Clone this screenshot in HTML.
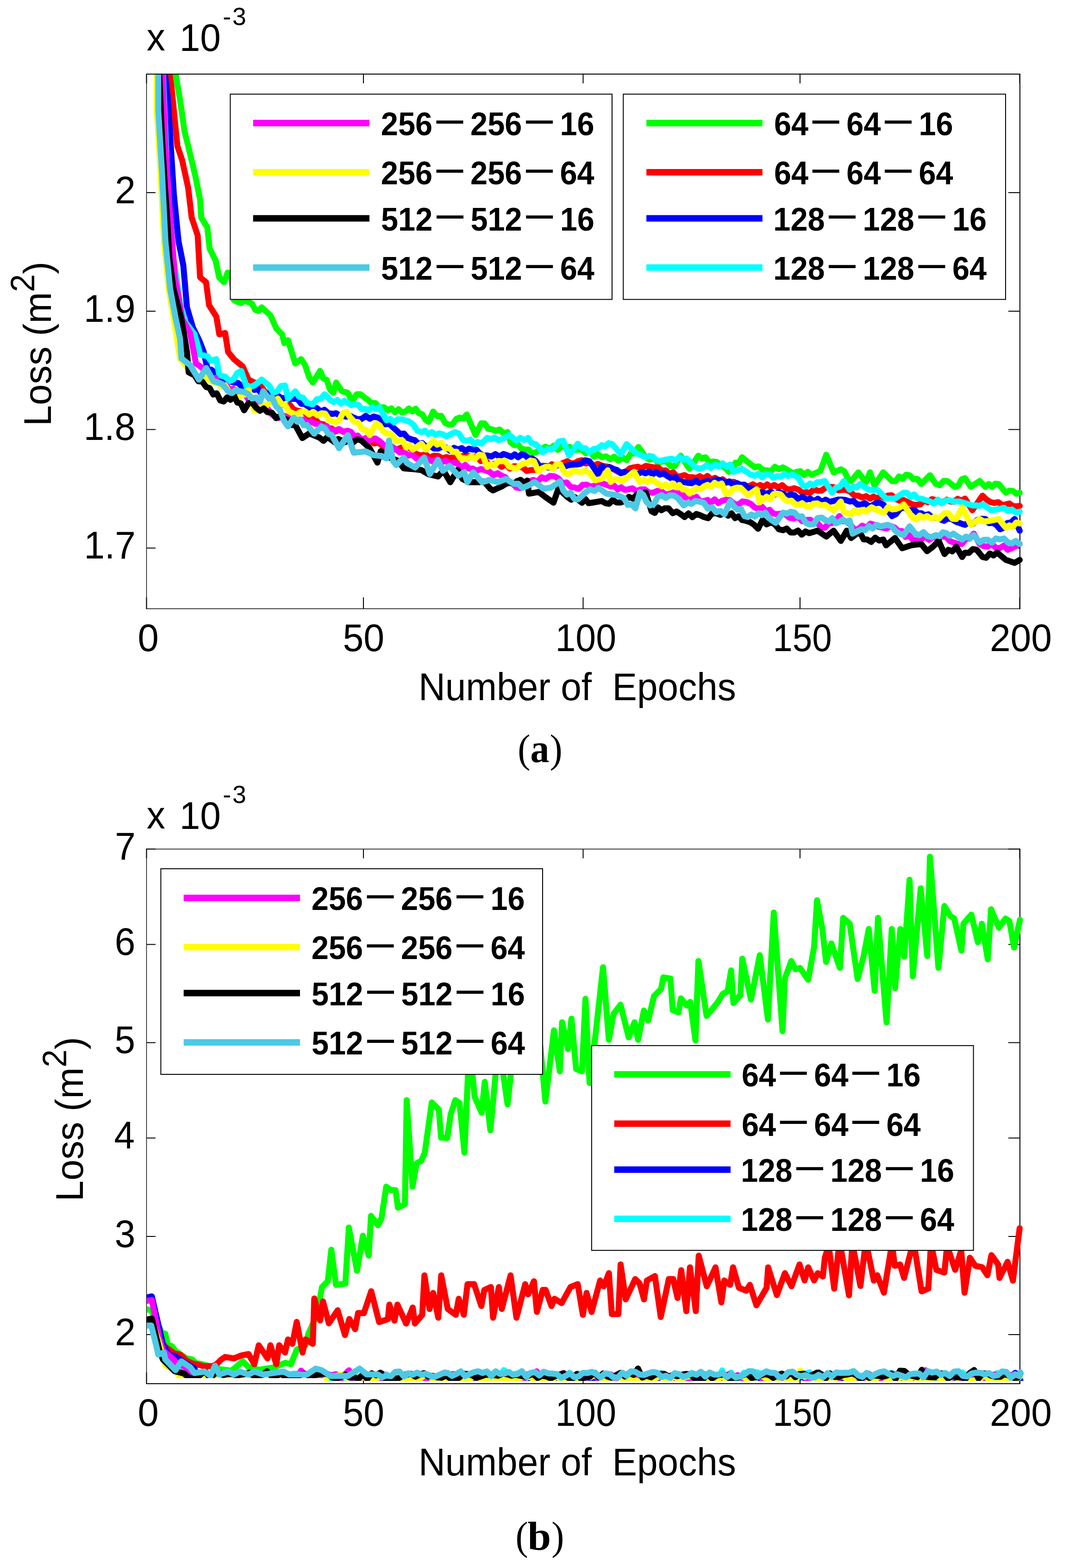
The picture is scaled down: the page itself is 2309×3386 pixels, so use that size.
<!DOCTYPE html>
<html><head><meta charset="utf-8"><title>Loss vs Epochs</title>
<style>html,body{margin:0;padding:0;background:#fff;}svg{display:block;}.t{font-family:"Liberation Sans", Arial, sans-serif;fill:#000;}.lg{font-family:"Liberation Sans", Arial, sans-serif;font-weight:bold;fill:#000;}.cap{font-family:"Liberation Serif", "Times New Roman", serif;fill:#000;}</style></head><body>
<svg width="2309" height="3386" viewBox="0 0 2309 3386">
<rect width="2309" height="3386" fill="#fff"/>
<defs>
<clipPath id="c1"><rect x="317" y="161" width="1895" height="1152.8"/></clipPath>
<clipPath id="c2"><path d="M317 1834.4H2212V2982H700V2976H317Z"/></clipPath>
</defs>
<path d="M316.5 159V1315.5" stroke="#000" stroke-width="1.4" fill="none"/>
<path d="M315.8 160H2203.5" stroke="#000" stroke-width="2" fill="none"/>
<path d="M2203.0 159V1315.5" stroke="#000" stroke-width="2" fill="none"/>
<path d="M315.8 1314.5H2204.0" stroke="#000" stroke-width="1.4" fill="none"/>
<path d="M316.5 416.0h19.5M2202.5 416.0h-24.5M316.5 672.0h19.5M2202.5 672.0h-24.5M316.5 927.5h19.5M2202.5 927.5h-24.5M316.5 1183.6h19.5M2202.5 1183.6h-24.5M316.5 1314.5v-24.5M316.5 160v20M785.0 1314.5v-24.5M785.0 160v20M1259.5 1314.5v-24.5M1259.5 160v20M1728.0 1314.5v-24.5M1728.0 160v20M2202.5 1314.5v-24.5M2202.5 160v20" fill="none" stroke="#000" stroke-width="2"/>
<path d="M316.5 1832.6V2989.0" stroke="#000" stroke-width="1.4" fill="none"/>
<path d="M315.8 1833.6H2203.5" stroke="#000" stroke-width="1.5" fill="none"/>
<path d="M2203.0 1832.6V2989.0" stroke="#000" stroke-width="2" fill="none"/>
<path d="M315.8 2988.0H2204.0" stroke="#000" stroke-width="2" fill="none"/>
<path d="M316.5 1833.5h19.5M2202.5 1833.5h-24.5M316.5 2039.5h19.5M2202.5 2039.5h-24.5M316.5 2251.6h19.5M2202.5 2251.6h-24.5M316.5 2457.5h19.5M2202.5 2457.5h-24.5M316.5 2670.0h19.5M2202.5 2670.0h-24.5M316.5 2882.0h19.5M2202.5 2882.0h-24.5M316.5 2988.0v-24.5M316.5 1833.6v20M785.0 2988.0v-24.5M785.0 1833.6v20M1259.5 2988.0v-24.5M1259.5 1833.6v20M1728.0 2988.0v-24.5M1728.0 1833.6v20M2202.5 2988.0v-24.5M2202.5 1833.6v20" fill="none" stroke="#000" stroke-width="2"/>
<g clip-path="url(#c1)" fill="none" stroke-width="13" stroke-linejoin="round" stroke-linecap="round">
<polyline stroke="#00ff00" points="366.0,0.0 372.6,80.0 379.3,160.0 388.3,211.6 393.5,247.8 398.6,284.0 406.4,315.0 414.1,347.2 421.9,379.5 427.0,405.2 432.2,431.0 434.8,470.0 441.2,480.2 447.7,490.5 452.9,537.0 459.4,549.9 465.8,562.8 473.5,599.0 478.7,604.1 483.9,609.3 491.6,588.7 500.0,600.0 505.3,647.9 513.2,652.0 521.0,654.4 528.9,649.0 536.8,652.6 544.2,655.6 551.5,669.1 558.9,671.5 565.2,663.7 571.5,669.5 577.8,675.2 584.1,681.0 590.5,695.2 596.8,709.4 603.1,715.7 609.4,722.0 614.1,741.0 622.0,734.6 629.9,759.8 637.8,785.0 644.1,780.3 650.4,775.6 658.8,787.9 667.2,813.1 675.6,826.0 683.5,813.5 691.4,800.9 698.5,817.3 705.6,820.3 712.7,841.0 719.8,848.2 726.1,826.0 732.4,835.5 738.7,845.0 745.0,846.6 751.3,848.2 756.0,857.6 760.8,867.0 765.5,859.2 770.3,851.4 778.2,851.3 786.0,857.5 793.9,862.8 801.8,870.3 810.8,870.5 819.8,880.1 828.9,879.5 837.9,885.6 845.5,881.9 853.0,890.2 860.6,883.6 868.1,890.3 875.7,888.8 883.1,882.1 890.4,888.4 897.8,882.5 904.9,892.4 912.0,894.6 919.1,906.5 926.2,910.9 935.6,888.8 944.3,898.8 953.0,898.1 961.6,913.6 970.3,917.2 977.9,915.7 985.5,904.6 993.0,901.7 1000.6,903.9 1008.2,895.1 1014.5,909.8 1020.8,924.6 1027.1,939.3 1033.4,926.6 1039.7,914.0 1047.1,914.5 1054.4,926.0 1061.8,926.7 1070.5,930.4 1079.2,927.5 1087.8,936.1 1096.5,933.0 1102.8,955.0 1110.7,961.3 1118.6,959.5 1126.5,969.3 1134.4,970.8 1141.8,970.8 1149.1,978.6 1156.5,977.1 1163.8,972.9 1171.2,968.7 1178.5,964.5 1187.3,969.9 1196.2,962.2 1205.0,971.4 1213.9,962.7 1222.7,967.7 1231.1,965.0 1239.6,972.2 1248.0,970.8 1256.7,971.2 1265.3,978.8 1274.0,974.6 1282.7,986.2 1291.3,980.8 1300.0,987.3 1308.9,985.5 1317.9,991.5 1326.8,986.2 1335.7,994.7 1344.7,988.0 1353.6,993.6 1362.0,979.6 1370.5,979.0 1378.9,965.2 1386.8,976.2 1394.6,987.3 1403.6,992.5 1412.6,989.2 1421.6,999.9 1430.7,996.1 1439.7,996.6 1448.7,1006.8 1457.7,1006.2 1464.0,995.2 1470.3,984.1 1476.6,993.6 1483.0,1003.0 1489.3,1012.5 1495.6,1003.0 1501.9,993.6 1508.2,984.1 1516.1,989.9 1524.0,987.5 1531.8,998.0 1539.7,996.7 1548.4,997.8 1557.1,1004.6 1565.7,1010.1 1574.4,1018.8 1581.5,1015.1 1588.6,999.1 1595.7,999.9 1602.8,987.3 1609.1,992.5 1615.5,997.8 1621.8,1003.0 1630.5,1009.1 1639.2,1007.2 1647.8,1014.7 1656.5,1015.6 1665.2,1017.4 1673.8,1008.0 1682.5,1012.9 1691.2,1009.3 1698.5,1013.5 1705.9,1017.8 1713.2,1022.0 1721.1,1018.9 1729.0,1017.5 1736.9,1025.7 1744.8,1018.9 1752.7,1025.5 1760.6,1022.0 1766.3,1019.4 1772.1,1016.7 1778.4,999.4 1784.7,982.0 1792.6,1001.0 1800.5,1019.9 1808.3,1016.8 1816.2,1013.6 1823.6,1017.5 1830.9,1032.6 1838.3,1038.8 1846.2,1029.3 1854.1,1019.9 1862.0,1031.0 1869.9,1042.0 1879.3,1019.9 1884.0,1034.1 1888.8,1048.3 1895.1,1038.8 1901.4,1029.4 1907.7,1019.9 1914.0,1026.2 1920.4,1032.5 1926.7,1038.8 1934.3,1039.1 1941.8,1028.9 1949.4,1034.0 1956.9,1025.3 1964.5,1026.2 1972.9,1035.1 1981.3,1033.9 1989.7,1045.1 1996.0,1038.8 2002.4,1032.5 2008.7,1026.2 2015.0,1035.7 2021.3,1045.1 2029.7,1047.8 2038.1,1038.6 2046.5,1038.8 2054.4,1045.1 2062.3,1051.4 2069.7,1049.0 2077.0,1035.2 2084.4,1032.5 2090.7,1042.0 2097.0,1051.4 2103.3,1047.2 2109.6,1043.0 2115.9,1038.8 2122.2,1045.1 2128.5,1051.4 2135.6,1045.1 2142.7,1051.5 2149.8,1044.4 2156.9,1045.1 2164.8,1054.5 2172.7,1064.0 2180.1,1059.4 2187.6,1060.2 2195.1,1066.2 2202.5,1064.0"/>
<polyline stroke="#ff0000" points="358.0,0.0 366.4,160.0 370.2,185.8 376.6,250.4 383.1,315.0 388.3,330.5 393.5,346.0 399.9,375.6 406.4,405.3 414.1,470.0 420.6,489.3 427.0,508.6 432.2,599.0 438.6,604.1 445.1,609.3 451.6,659.0 459.5,671.5 467.4,684.0 473.7,722.0 480.0,720.5 486.3,719.0 492.7,760.0 499.0,767.8 505.3,775.6 511.6,780.9 517.9,786.1 524.2,791.4 530.5,805.6 536.8,819.8 543.1,822.9 549.4,826.0 557.0,828.6 564.7,835.6 572.4,845.9 580.0,850.0 587.8,852.2 595.5,863.2 603.3,862.0 611.0,873.8 618.8,876.0 626.6,875.0 634.4,884.2 642.2,886.8 650.0,888.0 657.5,889.9 665.0,898.8 672.5,904.5 680.0,905.0 689.3,914.7 698.7,916.3 708.0,925.0 716.0,925.0 724.0,931.9 732.0,927.0 740.0,932.0 748.4,932.1 756.7,940.9 765.0,943.3 773.4,942.8 782.3,949.7 791.1,945.5 800.0,951.9 808.1,957.7 816.2,954.6 824.3,961.6 832.5,965.4 840.6,962.0 848.7,970.6 856.8,970.8 864.7,967.6 872.6,964.5 880.2,964.9 887.7,968.9 895.3,977.9 902.8,982.0 910.4,983.4 919.4,981.3 928.4,988.2 937.4,984.0 946.5,984.7 955.5,989.7 964.5,987.0 973.5,989.7 981.4,985.2 989.3,990.9 997.1,985.0 1005.0,984.8 1012.9,984.5 1020.8,986.6 1029.6,985.9 1038.5,995.7 1047.3,992.9 1056.2,1002.2 1065.0,1002.4 1074.1,1000.2 1083.2,1008.1 1092.3,1002.8 1101.4,1011.8 1110.6,1006.8 1119.7,1007.8 1128.8,1009.3 1137.9,1016.9 1147.0,1015.0 1156.0,1015.1 1165.0,1007.6 1174.0,1005.7 1183.0,1009.5 1192.0,1002.6 1201.0,1005.9 1210.0,1002.4 1217.6,999.4 1225.2,995.9 1232.8,1000.3 1240.4,1000.7 1248.0,996.0 1256.7,993.8 1265.3,1000.9 1274.0,998.4 1282.7,1006.2 1291.3,1001.7 1300.0,1005.5 1306.3,1006.8 1312.6,1008.0 1318.9,1009.3 1326.8,1014.0 1334.7,1018.8 1343.3,1020.3 1351.8,1018.8 1360.4,1011.4 1368.9,1009.3 1377.5,1007.8 1386.0,1011.2 1394.6,1006.2 1400.9,1007.2 1407.3,1008.3 1413.6,1009.3 1421.7,1009.6 1429.8,1016.4 1437.9,1015.7 1446.0,1023.4 1454.1,1019.8 1462.2,1029.4 1470.3,1028.3 1478.5,1025.9 1486.7,1030.4 1495.0,1030.5 1503.2,1032.1 1511.4,1028.3 1519.7,1033.0 1528.0,1027.7 1536.2,1035.2 1544.5,1031.8 1552.8,1038.7 1561.0,1035.0 1569.3,1041.9 1577.6,1040.9 1585.7,1040.6 1593.8,1047.5 1601.9,1048.8 1610.1,1048.9 1618.2,1049.9 1626.3,1045.9 1634.4,1050.3 1642.0,1047.3 1649.5,1051.3 1657.1,1046.0 1664.6,1051.4 1672.2,1047.2 1680.9,1052.6 1689.5,1047.7 1698.2,1055.5 1706.9,1057.1 1715.6,1054.3 1724.2,1057.2 1732.9,1063.9 1741.6,1063.0 1749.8,1064.5 1758.0,1056.4 1766.2,1059.7 1774.4,1059.4 1782.6,1053.5 1791.8,1051.3 1801.0,1052.0 1810.2,1058.8 1819.4,1057.7 1828.1,1057.9 1836.8,1062.3 1845.4,1070.3 1854.1,1070.3 1862.5,1074.3 1870.9,1071.4 1879.3,1076.7 1886.9,1072.2 1894.5,1077.0 1902.0,1071.1 1909.6,1075.1 1917.2,1070.3 1925.9,1069.4 1934.6,1077.3 1943.2,1081.3 1951.9,1079.8 1958.2,1083.0 1964.5,1086.1 1970.8,1089.3 1979.2,1090.4 1987.6,1089.3 1996.0,1081.2 2004.5,1084.6 2012.9,1077.7 2021.3,1079.8 2029.2,1083.7 2037.1,1083.7 2044.9,1079.1 2052.8,1083.0 2060.7,1083.4 2068.6,1077.2 2076.5,1081.4 2084.4,1076.7 2092.3,1089.3 2100.2,1101.9 2107.5,1091.4 2114.9,1080.8 2122.2,1070.3 2130.6,1078.5 2139.1,1084.1 2147.5,1086.1 2155.9,1084.4 2164.3,1090.4 2172.7,1089.3 2180.1,1087.2 2187.6,1092.7 2195.1,1093.5 2202.5,1092.4"/>
<polyline stroke="#0000ff" points="350.0,0.0 356.0,160.0 362.5,211.6 368.9,314.9 375.4,418.2 380.5,469.9 385.7,521.5 390.9,547.4 396.0,573.2 403.8,663.6 410.2,685.5 416.7,707.5 423.1,720.4 429.6,733.3 434.8,746.6 440.0,760.0 448.5,797.7 456.4,798.2 464.2,804.7 472.1,813.6 480.0,815.0 488.4,820.7 496.9,824.0 505.3,826.0 514.1,826.9 522.9,835.1 531.8,837.9 540.6,835.5 549.4,842.0 557.0,840.1 564.7,849.9 572.4,851.6 580.0,850.0 587.4,850.1 594.7,853.4 602.0,855.5 609.4,860.8 617.8,858.3 626.2,862.5 634.6,860.8 642.8,862.1 651.0,872.0 659.2,872.4 667.4,881.2 675.6,883.0 684.0,881.0 692.4,888.4 700.8,884.9 709.2,892.0 717.6,893.9 726.0,892.4 733.6,897.0 741.2,898.3 748.8,899.8 756.4,898.2 764.0,901.8 772.7,905.5 781.3,904.5 790.0,898.0 798.7,904.2 807.3,899.5 816.0,901.8 824.2,911.3 832.3,916.3 840.5,914.8 848.6,922.6 856.8,929.8 864.7,937.6 872.5,936.2 880.4,945.7 888.3,948.7 896.2,950.6 904.1,959.1 912.0,956.8 919.9,964.5 928.6,962.1 937.2,968.5 945.9,968.8 954.6,965.1 963.3,966.2 971.9,973.1 980.6,967.0 989.3,970.8 997.2,967.6 1005.0,973.3 1012.9,968.8 1020.8,970.8 1028.7,970.9 1036.6,979.5 1044.5,983.9 1052.4,983.4 1061.2,985.8 1070.0,980.6 1078.9,986.0 1087.7,980.3 1096.5,983.4 1104.1,986.8 1111.7,981.1 1119.2,987.4 1126.8,981.0 1134.4,983.4 1142.0,990.1 1149.5,990.1 1157.1,995.3 1164.6,1005.8 1172.2,1008.7 1179.8,1006.2 1187.3,1009.8 1194.9,1010.7 1202.4,1003.3 1210.0,1005.5 1219.0,1008.0 1228.1,1004.5 1237.1,1003.3 1246.1,1003.1 1255.1,1001.3 1264.2,993.9 1273.2,996.0 1279.5,1005.5 1285.8,1014.9 1292.1,1024.4 1300.0,1006.2 1308.2,1012.0 1316.4,1008.6 1324.6,1012.5 1332.8,1014.9 1341.0,1022.0 1349.9,1018.6 1358.9,1023.8 1367.8,1019.2 1376.7,1024.2 1385.7,1019.0 1394.6,1022.0 1402.2,1018.3 1409.8,1024.2 1417.3,1019.2 1424.9,1024.9 1432.5,1022.0 1441.3,1027.9 1450.2,1033.0 1459.0,1030.2 1467.9,1040.0 1476.7,1040.9 1485.5,1042.7 1494.3,1043.3 1503.2,1038.2 1512.0,1044.3 1520.8,1040.9 1528.4,1038.4 1536.0,1042.5 1543.5,1036.2 1551.1,1035.8 1558.7,1037.7 1566.9,1042.8 1575.1,1039.6 1583.3,1046.1 1591.5,1043.2 1599.7,1047.2 1607.6,1046.5 1615.5,1054.8 1623.3,1053.4 1631.2,1059.7 1639.1,1062.5 1647.0,1063.0 1655.8,1066.8 1664.7,1062.1 1673.5,1068.1 1682.4,1062.4 1691.2,1066.1 1699.6,1071.9 1708.0,1067.8 1716.4,1069.7 1724.8,1077.8 1733.2,1072.9 1741.6,1078.7 1749.9,1076.7 1758.3,1082.4 1766.6,1076.9 1775.0,1084.1 1783.3,1079.0 1791.7,1083.6 1800.0,1081.9 1808.8,1079.1 1817.6,1078.7 1826.4,1079.7 1835.2,1083.0 1843.6,1081.9 1852.0,1089.8 1860.4,1089.3 1868.3,1086.5 1876.2,1093.3 1884.1,1091.3 1891.9,1086.6 1899.8,1085.5 1907.7,1089.3 1914.0,1097.7 1920.4,1106.1 1926.7,1114.5 1935.1,1110.2 1943.5,1099.4 1951.9,1095.6 1959.5,1100.1 1967.0,1102.3 1974.6,1100.6 1982.1,1107.9 1989.7,1108.2 1997.6,1112.8 2005.5,1110.5 2013.4,1117.5 2021.3,1117.7 2030.1,1121.4 2039.0,1124.6 2047.8,1119.5 2056.7,1121.5 2065.5,1127.1 2071.8,1129.2 2078.1,1131.3 2084.4,1133.4 2093.2,1127.5 2102.0,1130.9 2110.9,1122.7 2119.7,1120.2 2128.5,1120.8 2136.4,1129.7 2144.3,1129.1 2152.2,1133.5 2160.1,1142.9 2168.0,1139.8 2175.8,1129.5 2183.7,1128.3 2191.6,1120.8 2197.1,1133.4 2202.5,1146.0"/>
<polyline stroke="#00ffff" points="345.0,0.0 352.0,160.0 357.0,280.0 362.0,400.0 368.5,480.0 375.0,560.0 382.5,610.0 390.0,660.0 395.6,678.4 401.2,696.8 407.5,705.2 413.8,713.6 420.1,722.0 426.4,744.0 432.7,766.0 440.6,767.6 448.5,769.3 454.8,778.8 461.1,777.2 467.4,775.6 473.7,810.3 480.0,811.9 486.3,813.5 491.1,818.2 495.8,823.0 504.2,819.3 512.6,805.5 521.0,800.9 527.4,819.8 533.7,838.7 541.5,835.5 549.4,832.4 557.3,826.1 565.2,819.8 573.1,826.1 581.0,832.4 590.4,848.2 598.8,844.9 607.3,833.5 615.7,832.4 622.0,860.8 629.9,852.9 637.8,845.0 646.2,857.0 654.6,858.8 663.0,870.3 669.3,871.8 675.6,873.4 684.0,862.3 692.5,861.3 700.9,851.4 707.2,857.7 713.5,864.0 721.1,868.3 728.6,863.7 736.2,871.7 743.7,865.4 751.3,870.3 758.9,874.9 766.5,873.2 774.0,874.3 781.6,883.8 789.2,883.0 796.6,886.1 804.0,879.0 811.5,883.3 818.9,879.3 826.8,893.5 834.7,907.7 842.9,904.6 851.1,912.0 859.3,905.3 867.5,905.5 875.7,907.7 884.4,910.7 893.0,917.3 901.7,930.5 910.4,933.0 917.8,930.0 925.1,937.4 932.5,933.0 940.4,939.0 948.2,935.7 956.1,937.7 964.0,942.4 970.3,939.3 976.7,936.1 983.0,933.0 991.4,936.0 999.8,950.0 1008.2,951.9 1016.1,949.4 1024.0,958.7 1031.8,954.3 1039.7,958.2 1046.1,951.9 1052.4,945.6 1060.3,948.5 1068.2,944.6 1076.0,950.4 1083.9,948.7 1091.8,944.0 1099.7,939.3 1107.6,945.6 1115.5,951.9 1123.9,945.5 1132.3,950.5 1140.7,945.6 1148.6,957.5 1156.5,959.1 1164.3,965.9 1172.2,977.1 1181.0,970.0 1189.9,970.7 1198.7,965.8 1207.6,953.1 1216.4,951.9 1222.7,967.6 1229.0,983.4 1235.3,975.0 1241.7,966.6 1248.0,958.2 1256.4,967.4 1264.8,968.3 1273.2,977.1 1282.1,969.7 1291.1,968.6 1300.0,961.4 1307.4,963.7 1314.7,956.9 1322.1,958.9 1328.4,966.3 1334.7,973.6 1341.0,981.0 1347.3,970.0 1353.6,958.9 1359.9,965.2 1366.3,971.5 1372.6,977.8 1379.9,981.0 1387.3,984.1 1394.6,987.3 1402.2,984.6 1409.8,985.8 1417.3,993.1 1424.9,995.7 1432.5,993.6 1438.8,992.5 1445.1,991.5 1451.4,990.4 1459.3,994.9 1467.2,986.7 1475.1,992.7 1483.0,990.4 1489.3,996.7 1495.6,1003.0 1501.9,1009.3 1510.3,1012.1 1518.7,1010.2 1527.1,1004.3 1535.5,1010.9 1544.0,1002.8 1552.4,1007.5 1560.8,1000.5 1569.2,1007.8 1577.6,1003.0 1583.9,1018.8 1590.2,1016.7 1596.5,1014.6 1602.8,1012.5 1609.1,1016.7 1615.5,1020.9 1621.8,1025.1 1629.9,1027.5 1638.0,1023.2 1646.1,1030.9 1654.2,1023.2 1662.3,1023.8 1670.4,1031.8 1678.5,1028.3 1686.4,1029.5 1694.3,1023.2 1702.2,1028.1 1710.1,1025.1 1718.0,1027.0 1725.8,1033.9 1733.7,1047.9 1741.6,1050.3 1749.5,1044.1 1757.4,1048.1 1765.3,1041.2 1773.2,1040.9 1781.5,1038.8 1789.4,1051.4 1797.3,1064.0 1805.7,1053.3 1814.2,1050.9 1822.6,1038.8 1828.9,1048.2 1835.2,1057.7 1842.6,1050.9 1849.9,1052.8 1857.3,1045.1 1863.6,1049.3 1869.9,1053.5 1876.2,1057.7 1882.5,1057.7 1888.8,1057.7 1895.1,1057.7 1901.4,1064.0 1907.7,1070.4 1914.0,1076.7 1920.3,1076.7 1926.7,1076.7 1933.0,1076.7 1939.3,1072.5 1945.6,1068.2 1951.9,1064.0 1959.5,1064.5 1967.0,1073.3 1974.6,1067.7 1982.1,1076.1 1989.7,1076.7 1996.0,1078.8 2002.4,1080.9 2008.7,1083.0 2017.1,1087.4 2025.5,1078.8 2033.9,1087.0 2042.3,1080.5 2050.7,1080.3 2059.1,1083.0 2065.4,1083.0 2071.8,1083.0 2079.1,1085.1 2086.5,1087.2 2093.8,1089.3 2100.9,1091.7 2108.0,1091.2 2115.1,1092.6 2122.2,1089.3 2128.5,1093.5 2134.8,1097.7 2141.1,1101.9 2147.4,1100.8 2153.8,1099.8 2160.1,1098.7 2168.6,1096.5 2177.1,1103.7 2185.5,1100.1 2194.0,1106.7 2202.5,1105.0"/>
<polyline stroke="#ff00ff" points="346.0,0.0 350.9,160.0 357.3,315.0 362.5,392.5 367.6,470.0 372.8,534.5 378.0,599.0 385.8,644.2 393.5,689.4 402.1,704.1 410.6,718.9 417.0,752.0 423.3,785.0 432.2,790.9 441.1,798.9 450.0,810.0 457.5,818.6 465.0,815.7 472.5,828.8 480.0,830.0 488.0,831.9 496.0,841.1 504.0,839.5 512.0,849.6 520.0,850.0 528.0,849.8 536.0,861.8 544.0,858.2 552.0,868.9 560.0,870.0 568.4,879.5 576.8,880.6 585.2,893.5 593.6,898.7 602.9,902.5 612.2,897.4 621.4,900.2 630.7,905.9 640.0,905.0 648.0,909.5 656.0,905.8 664.0,914.8 672.0,909.5 680.0,915.0 688.6,915.9 697.2,924.0 705.8,920.2 714.4,929.6 723.0,930.0 732.3,926.6 741.7,932.4 751.0,930.0 758.2,933.0 765.5,942.4 772.8,940.6 780.0,950.0 787.8,947.2 795.6,954.0 803.3,947.9 811.1,947.0 818.9,951.9 827.7,959.9 836.6,965.5 845.4,963.5 854.3,969.6 863.1,977.1 872.1,975.3 881.1,983.9 890.1,981.4 899.2,990.0 908.2,992.8 917.2,987.6 926.2,993.0 935.2,996.9 944.2,991.4 953.2,999.0 962.3,994.2 971.3,1002.1 980.3,998.1 989.3,1002.4 997.2,1008.9 1005.0,1004.0 1012.9,1012.0 1020.8,1011.8 1029.8,1016.3 1038.8,1012.8 1047.8,1015.6 1056.9,1018.5 1065.9,1026.0 1074.9,1021.9 1083.9,1027.6 1091.8,1030.8 1099.7,1042.8 1107.6,1044.1 1115.5,1052.8 1124.6,1054.0 1133.6,1049.5 1142.7,1039.8 1151.8,1036.2 1160.8,1040.2 1169.9,1030.5 1178.9,1034.1 1188.0,1027.6 1196.9,1028.4 1205.9,1032.8 1214.8,1043.5 1223.7,1041.8 1232.7,1051.4 1241.6,1052.8 1249.9,1055.8 1258.3,1047.0 1266.6,1046.4 1275.0,1050.4 1283.3,1049.4 1291.7,1041.8 1300.0,1043.4 1306.3,1045.7 1312.6,1048.0 1318.9,1050.3 1326.5,1048.7 1334.1,1056.8 1341.6,1052.2 1349.2,1057.8 1356.8,1056.7 1365.7,1054.6 1374.7,1060.3 1383.6,1057.0 1392.5,1056.8 1401.5,1063.6 1410.4,1064.1 1419.3,1060.1 1428.3,1060.9 1437.2,1067.4 1446.1,1066.6 1455.1,1063.2 1464.0,1066.1 1472.1,1064.3 1480.2,1074.5 1488.3,1069.8 1496.5,1077.6 1504.6,1073.0 1512.7,1083.1 1520.8,1081.9 1528.4,1079.6 1536.0,1085.1 1543.5,1078.3 1551.1,1086.3 1558.7,1081.9 1567.7,1079.1 1576.7,1080.1 1585.7,1088.2 1594.8,1089.6 1603.8,1082.8 1612.8,1084.2 1621.8,1088.2 1629.9,1095.8 1638.0,1098.9 1646.1,1094.2 1654.2,1103.9 1662.3,1100.9 1670.4,1109.1 1678.5,1110.3 1687.5,1109.3 1696.5,1110.7 1705.5,1118.2 1714.6,1119.7 1723.6,1116.2 1732.6,1125.5 1741.6,1122.9 1749.6,1122.2 1757.6,1127.7 1765.5,1129.2 1773.5,1138.4 1781.5,1139.7 1789.4,1130.7 1797.3,1129.4 1805.2,1124.2 1813.1,1114.5 1821.0,1125.8 1828.8,1125.8 1836.7,1132.9 1844.6,1142.9 1853.4,1143.1 1862.3,1135.2 1871.1,1139.5 1880.0,1130.8 1888.8,1133.4 1897.6,1137.7 1906.5,1139.5 1915.3,1141.3 1924.2,1135.8 1933.0,1139.7 1940.6,1147.2 1948.1,1146.7 1955.7,1159.4 1963.2,1155.5 1970.8,1165.0 1979.8,1167.4 1988.8,1166.0 1997.8,1157.9 2006.9,1165.7 2015.9,1158.2 2024.9,1164.0 2033.9,1158.7 2042.7,1158.7 2051.6,1168.5 2060.4,1171.7 2069.3,1174.6 2078.1,1174.4 2086.5,1163.4 2094.9,1162.9 2103.3,1152.4 2109.6,1163.4 2115.9,1174.4 2124.6,1179.4 2133.2,1180.4 2141.9,1174.2 2150.6,1182.7 2159.3,1183.7 2168.0,1178.3 2176.6,1187.2 2185.3,1183.9 2193.9,1179.2 2202.5,1174.4"/>
<polyline stroke="#ffff00" points="334.0,0.0 338.8,160.0 338.8,237.5 346.6,366.6 354.3,521.5 359.5,573.1 364.6,624.8 371.1,663.5 377.6,702.3 383.3,738.6 389.0,775.0 396.0,783.3 403.0,791.7 410.0,800.0 417.5,806.0 425.0,812.0 433.8,818.0 442.5,813.9 451.2,819.1 460.0,825.0 468.8,825.3 477.5,834.9 486.3,832.4 494.7,846.4 503.2,848.6 511.6,864.0 520.0,854.2 528.4,852.2 536.8,842.0 543.1,864.0 549.4,886.0 557.8,885.7 566.3,874.3 574.7,876.6 583.1,867.0 591.6,867.2 600.0,860.8 607.9,872.2 615.8,874.5 623.6,887.8 631.5,892.4 640.5,895.0 649.5,889.3 658.5,888.0 667.5,895.2 676.5,889.3 685.5,896.6 694.5,892.4 702.4,893.1 710.2,905.7 718.1,909.9 726.0,911.3 733.4,906.3 740.8,891.8 748.2,889.2 756.6,901.3 765.0,910.7 773.4,911.5 781.8,926.6 790.2,928.3 798.6,939.7 805.6,926.9 812.6,914.0 820.0,918.7 827.3,930.9 834.7,936.0 841.8,936.3 848.9,941.3 856.0,952.7 863.1,951.9 870.2,951.9 877.3,966.3 884.4,961.3 891.5,970.8 897.8,966.6 904.1,962.4 910.4,958.2 915.1,964.5 919.9,970.8 927.8,961.3 935.6,951.9 944.3,960.2 953.0,956.2 961.6,968.0 970.3,967.7 978.2,975.8 986.1,975.5 994.0,989.2 1001.9,989.7 1010.1,990.7 1018.3,984.8 1026.5,990.5 1034.7,982.0 1042.9,983.4 1047.7,996.0 1052.4,1008.7 1060.3,1002.4 1068.2,1005.4 1076.0,995.4 1083.9,996.0 1091.8,995.7 1099.7,1007.8 1107.6,1010.0 1115.5,1011.8 1123.1,1005.2 1130.6,1001.0 1138.2,1000.0 1145.7,994.6 1153.3,996.0 1158.0,1007.0 1162.8,1018.1 1170.7,1011.7 1178.5,1008.0 1186.4,1008.0 1194.3,1012.3 1202.1,1002.5 1210.0,1002.4 1214.8,1011.8 1219.6,1021.3 1228.5,1023.6 1237.5,1016.4 1246.4,1018.0 1255.3,1019.2 1264.3,1016.4 1273.2,1021.3 1279.5,1029.2 1285.8,1037.1 1292.9,1035.5 1300.0,1033.9 1306.3,1024.8 1312.6,1015.6 1318.9,1040.9 1326.8,1034.9 1334.7,1035.0 1342.6,1038.7 1350.5,1034.6 1356.8,1029.3 1363.1,1024.1 1369.4,1018.8 1375.7,1029.8 1382.0,1040.9 1390.4,1035.7 1398.9,1040.5 1407.3,1034.6 1414.6,1039.8 1422.0,1045.1 1429.3,1050.3 1436.9,1046.1 1444.5,1053.3 1452.0,1043.8 1459.6,1052.3 1467.2,1047.2 1474.6,1057.0 1481.9,1057.2 1489.3,1066.1 1497.2,1058.8 1505.0,1054.5 1512.9,1056.9 1520.8,1050.3 1528.4,1047.0 1536.0,1051.0 1543.5,1042.5 1551.1,1047.9 1558.7,1044.0 1568.1,1066.1 1576.0,1065.0 1583.9,1055.2 1591.8,1053.1 1599.7,1053.5 1607.6,1061.4 1615.5,1069.3 1621.8,1065.1 1628.1,1060.9 1634.4,1056.7 1640.7,1085.0 1648.3,1078.5 1655.8,1072.6 1663.4,1078.5 1670.9,1066.9 1678.5,1066.1 1686.1,1067.7 1693.7,1077.1 1701.2,1082.3 1708.8,1081.3 1716.4,1088.2 1724.5,1090.8 1732.6,1086.6 1740.7,1092.8 1748.9,1094.8 1757.0,1087.7 1765.1,1086.9 1773.2,1091.4 1782.3,1090.1 1791.4,1096.2 1800.5,1101.9 1808.3,1092.5 1816.2,1083.0 1822.6,1105.0 1830.5,1108.4 1838.4,1109.5 1846.2,1102.0 1854.1,1107.2 1862.0,1101.2 1869.9,1105.0 1876.2,1100.3 1882.5,1095.6 1888.8,1098.7 1895.1,1101.9 1901.4,1105.0 1909.8,1106.4 1918.2,1094.9 1926.7,1099.9 1935.1,1099.2 1943.5,1096.0 1951.9,1089.3 1958.2,1098.8 1964.5,1108.2 1970.8,1117.7 1978.7,1121.5 1986.6,1113.4 1994.5,1118.1 2002.4,1114.5 2010.8,1119.8 2019.2,1116.0 2027.6,1120.8 2033.9,1114.5 2040.2,1108.2 2048.6,1108.2 2057.1,1120.3 2065.5,1120.8 2071.8,1108.2 2078.1,1095.6 2084.4,1108.2 2090.7,1120.8 2097.0,1133.4 2103.3,1129.2 2109.6,1125.0 2115.9,1120.8 2124.3,1126.0 2132.7,1125.6 2141.1,1124.0 2149.0,1122.4 2156.9,1120.8 2164.8,1130.2 2172.7,1139.7 2180.1,1134.6 2187.6,1137.7 2195.1,1128.2 2202.5,1130.3"/>
<polyline stroke="#000000" points="339.0,0.0 344.0,160.0 350.0,300.0 356.0,400.0 361.0,470.0 366.0,560.0 375.0,624.8 383.5,657.1 392.0,689.4 397.9,724.7 403.8,760.0 407.5,804.0 413.8,807.1 420.1,810.3 428.5,823.3 436.9,824.1 445.3,835.6 452.9,838.1 460.5,851.8 468.0,849.2 475.6,864.5 483.2,867.0 490.6,858.2 497.9,863.4 505.3,854.5 512.7,869.4 520.0,871.0 527.4,886.0 536.8,870.3 545.0,869.8 553.2,880.4 561.4,887.0 569.6,882.0 577.8,890.0 587.1,890.9 596.4,902.9 605.7,897.9 615.0,905.0 622.6,906.4 630.2,917.8 637.8,918.0 645.4,932.0 653.0,946.0 660.5,941.0 668.0,936.0 675.3,939.0 682.7,942.0 690.0,945.0 698.7,952.0 707.3,943.7 716.0,950.0 723.2,955.3 730.5,948.0 737.8,951.2 745.0,955.0 753.8,950.5 762.5,955.7 771.2,948.5 780.0,951.0 788.9,959.0 797.7,967.0 806.5,983.0 815.3,999.0 822.4,974.2 828.9,978.9 835.3,983.6 841.8,988.3 850.9,991.6 860.0,995.0 866.0,1003.1 871.9,1011.3 878.9,1011.9 886.0,1012.4 893.0,1013.0 901.5,1014.0 910.0,1015.0 917.4,1019.4 924.8,1023.7 931.9,1025.5 938.9,1027.2 946.0,1029.0 952.0,1022.5 958.0,1016.0 965.2,1028.7 972.5,1041.3 980.5,1028.0 988.4,1014.8 993.7,1024.5 999.0,1034.3 1006.1,1037.8 1013.2,1041.3 1020.3,1041.3 1027.3,1041.3 1034.4,1041.3 1039.7,1040.4 1045.0,1039.5 1052.0,1047.5 1059.1,1055.5 1064.7,1059.0 1071.2,1056.1 1077.7,1053.1 1084.2,1050.2 1092.8,1044.8 1101.4,1042.2 1110.0,1045.0 1117.2,1038.8 1124.5,1036.2 1131.7,1042.3 1138.9,1037.8 1142.5,1066.0 1149.6,1064.8 1156.6,1063.7 1163.7,1062.5 1170.8,1067.8 1177.8,1073.1 1186.7,1079.3 1195.5,1085.5 1200.8,1070.5 1206.0,1055.5 1212.5,1061.4 1219.0,1067.2 1225.5,1073.1 1233.7,1079.0 1241.8,1073.5 1250.0,1080.0 1257.1,1085.7 1264.2,1077.4 1271.4,1086.6 1278.5,1085.5 1285.7,1084.3 1292.8,1083.2 1300.0,1082.0 1307.9,1086.8 1315.8,1087.8 1323.6,1079.5 1331.5,1085.0 1340.5,1085.2 1349.5,1081.7 1358.5,1072.9 1367.6,1076.8 1376.6,1066.8 1385.6,1069.7 1394.6,1063.0 1400.9,1083.5 1407.3,1104.0 1414.4,1107.6 1421.4,1095.8 1428.5,1101.9 1435.6,1097.7 1444.3,1097.8 1452.9,1108.1 1461.6,1104.6 1470.3,1110.3 1478.7,1116.6 1487.1,1108.6 1495.5,1116.9 1504.0,1109.9 1512.4,1112.7 1520.8,1116.6 1529.6,1119.0 1538.5,1108.2 1547.3,1108.5 1556.2,1111.9 1565.0,1107.1 1572.6,1113.6 1580.1,1108.5 1587.7,1118.8 1595.2,1115.0 1602.8,1122.9 1611.5,1124.7 1620.2,1127.5 1628.8,1133.2 1637.5,1141.8 1642.2,1132.3 1647.0,1122.9 1655.8,1132.3 1664.7,1128.3 1673.5,1132.0 1682.4,1143.0 1691.2,1145.0 1699.3,1141.3 1707.4,1149.8 1715.5,1150.0 1723.6,1145.7 1731.7,1154.6 1739.8,1147.7 1747.9,1151.3 1756.8,1148.7 1765.8,1146.0 1772.1,1150.2 1778.4,1154.5 1784.7,1158.7 1792.6,1152.3 1800.5,1146.0 1808.3,1157.0 1816.2,1168.1 1822.6,1157.0 1828.9,1146.0 1838.3,1161.8 1844.6,1157.1 1850.9,1152.4 1858.3,1151.6 1865.6,1164.8 1873.0,1165.0 1881.7,1170.2 1890.3,1161.1 1899.0,1167.3 1907.7,1165.0 1914.0,1177.6 1920.3,1172.3 1926.7,1167.1 1933.0,1161.8 1940.8,1172.8 1948.7,1183.9 1955.0,1181.8 1961.4,1179.7 1967.7,1177.6 1975.0,1176.5 1982.4,1175.5 1989.7,1174.4 1996.1,1182.3 2002.4,1190.2 2008.7,1185.5 2015.0,1180.8 2021.3,1174.4 2027.6,1168.1 2033.9,1182.3 2040.2,1196.5 2048.6,1187.2 2057.1,1190.6 2065.5,1180.8 2071.8,1191.8 2078.1,1202.8 2084.4,1193.4 2092.8,1193.9 2101.2,1185.7 2109.6,1187.1 2115.9,1194.9 2122.2,1202.8 2130.1,1204.5 2138.0,1195.3 2145.9,1199.5 2153.8,1193.4 2160.1,1198.6 2166.4,1203.9 2172.7,1209.1 2179.0,1211.2 2185.3,1213.4 2191.6,1215.5 2197.1,1212.3 2202.5,1209.1"/>
<polyline stroke="#4dc9e5" points="337.0,0.0 341.8,160.0 341.8,237.5 349.6,366.6 357.3,521.5 362.5,573.1 367.6,624.8 373.6,656.9 379.7,689.0 389.0,732.0 392.0,774.0 397.0,778.0 402.0,782.0 410.6,788.3 416.9,798.8 423.3,809.3 429.6,819.8 437.5,807.2 445.3,794.6 453.2,808.8 461.1,823.0 467.4,825.1 473.7,827.2 480.0,829.3 486.4,837.1 492.7,845.0 501.1,848.8 509.5,842.2 517.9,845.0 526.7,846.2 535.5,850.5 544.4,860.7 553.2,858.4 562.0,867.0 568.4,845.0 574.7,852.9 581.0,860.8 587.3,857.7 596.0,877.1 604.6,885.2 613.3,908.4 622.0,920.8 628.3,911.3 634.6,901.8 641.7,910.6 648.8,905.5 655.9,918.3 663.0,917.6 670.9,927.0 678.8,936.5 686.6,928.6 694.5,920.8 701.9,925.0 709.2,936.7 716.6,939.7 724.5,953.9 732.4,968.0 738.7,958.6 745.0,949.1 751.3,939.7 757.6,958.6 764.0,977.5 772.0,976.8 780.0,976.0 788.8,974.6 797.7,978.1 806.5,983.0 815.4,983.9 824.2,984.8 829.5,987.4 834.8,990.0 840.1,951.2 848.9,995.4 856.0,1004.2 864.0,996.2 871.9,988.3 880.7,1000.7 888.7,1005.1 896.6,1009.5 903.1,1002.4 909.5,995.4 916.0,988.3 922.2,1006.0 928.4,1023.7 937.2,1008.7 946.0,993.6 951.3,1005.1 956.6,1016.6 963.7,1011.3 970.8,1006.0 977.3,1013.1 983.7,1020.1 990.2,1027.2 996.4,1023.7 1002.6,1020.1 1009.6,1041.3 1015.8,1030.7 1022.0,1020.1 1028.5,1027.2 1034.9,1034.2 1041.4,1041.3 1049.7,1038.7 1058.0,1036.0 1066.7,1038.7 1075.3,1041.3 1084.2,1037.8 1093.0,1034.3 1101.5,1039.7 1110.0,1045.0 1119.1,1044.4 1128.1,1053.3 1137.2,1050.2 1146.0,1045.8 1154.8,1041.3 1161.3,1046.0 1167.8,1050.8 1174.3,1055.5 1182.2,1054.2 1190.0,1053.0 1196.5,1048.5 1203.1,1044.1 1209.6,1039.6 1216.6,1059.0 1224.5,1068.0 1232.5,1064.2 1240.5,1076.8 1248.4,1078.4 1257.2,1070.5 1266.1,1062.5 1274.9,1056.6 1283.8,1060.2 1292.6,1053.7 1301.3,1059.8 1310.0,1066.0 1317.2,1067.1 1324.3,1068.2 1331.5,1069.3 1339.7,1071.9 1347.9,1075.8 1356.2,1090.3 1364.4,1089.1 1372.6,1097.7 1382.0,1063.0 1389.4,1068.3 1396.7,1084.0 1404.1,1091.4 1412.5,1088.4 1420.9,1073.2 1429.3,1069.3 1438.0,1075.3 1446.7,1069.7 1455.3,1070.3 1464.0,1075.6 1470.3,1083.5 1476.7,1091.4 1485.1,1085.5 1493.5,1088.1 1501.9,1081.9 1510.9,1083.3 1519.9,1085.6 1528.9,1098.3 1538.0,1095.4 1547.0,1106.3 1556.0,1103.2 1565.0,1110.3 1571.3,1096.1 1577.6,1081.9 1585.2,1093.5 1592.8,1100.6 1600.3,1098.9 1607.9,1114.5 1615.5,1116.6 1623.1,1111.1 1630.6,1115.7 1638.2,1108.3 1645.7,1112.5 1653.3,1107.1 1660.7,1118.1 1668.0,1124.2 1675.4,1129.2 1683.3,1118.2 1691.2,1107.1 1699.6,1109.1 1708.0,1105.1 1716.4,1107.1 1724.3,1116.1 1732.2,1115.0 1740.0,1128.6 1747.9,1132.4 1757.0,1132.3 1766.1,1118.6 1775.2,1117.7 1782.8,1123.1 1790.4,1126.3 1797.9,1118.8 1805.5,1130.0 1813.1,1127.1 1820.5,1121.8 1827.8,1127.4 1835.2,1124.0 1841.5,1152.4 1847.8,1149.2 1854.1,1146.1 1860.4,1142.9 1868.6,1144.9 1876.8,1135.8 1885.0,1141.3 1893.2,1133.3 1901.4,1136.6 1909.3,1135.0 1917.2,1133.4 1925.9,1136.5 1934.6,1146.9 1943.2,1152.5 1951.9,1155.5 1958.2,1146.0 1964.5,1136.6 1970.8,1144.5 1977.1,1152.4 1985.9,1155.6 1994.8,1149.3 2003.6,1157.9 2012.5,1159.9 2021.3,1155.5 2028.9,1157.9 2036.4,1149.6 2044.0,1151.4 2051.5,1157.0 2059.1,1152.4 2065.4,1156.6 2071.8,1160.8 2078.1,1165.0 2086.5,1158.8 2094.9,1162.5 2103.3,1155.5 2109.6,1163.4 2115.9,1171.3 2124.7,1165.7 2133.6,1165.6 2142.4,1171.6 2151.3,1162.7 2160.1,1165.0 2168.6,1162.8 2177.1,1171.5 2185.5,1173.4 2194.0,1168.2 2202.5,1174.4"/>
</g>
<g clip-path="url(#c2)" fill="none" stroke-width="13" stroke-linejoin="round" stroke-linecap="round">
<polyline stroke="#00ff00" points="316.6,2827.1 327.0,2830.0 349.4,2877.6 357.0,2880.1 362.0,2902.8 372.1,2907.9 379.7,2918.0 402.4,2933.1 415.0,2935.6 422.5,2943.2 435.2,2945.7 448.5,2949.2 470.0,2956.0 500.0,2960.0 524.2,2939.7 536.8,2952.4 560.0,2958.0 593.6,2952.4 615.7,2942.9 628.3,2946.0 640.9,2914.5 659.8,2905.0 666.2,2879.8 685.1,2838.8 695.4,2779.5 708.0,2766.9 715.6,2698.7 725.7,2774.5 745.9,2771.9 753.5,2650.8 771.1,2744.2 783.8,2668.5 796.4,2711.4 801.4,2625.6 816.6,2645.8 824.1,2630.6 834.2,2562.5 844.3,2570.0 854.4,2570.0 859.5,2607.9 874.6,2600.3 878.4,2375.7 891.0,2562.5 899.8,2512.0 909.9,2506.9 917.5,2489.3 932.6,2380.8 947.8,2395.9 952.8,2456.5 966.1,2457.5 973.6,2406.0 983.5,2375.7 992.6,2381.8 1003.2,2489.3 1014.0,2250.0 1025.1,2368.1 1040.3,2403.0 1047.1,2336.3 1059.2,2440.8 1077.0,2250.0 1096.3,2384.8 1112.0,2240.0 1125.0,2290.0 1138.0,2200.0 1152.0,2270.0 1163.0,2215.0 1178.0,2378.7 1196.5,2225.1 1209.1,2313.4 1214.1,2207.4 1226.8,2265.5 1234.3,2199.8 1244.4,2308.4 1257.0,2313.4 1264.6,2156.9 1273.4,2338.6 1284.8,2247.8 1302.5,2088.8 1315.1,2245.3 1325.2,2189.7 1340.3,2169.6 1358.0,2240.2 1370.6,2207.4 1378.2,2245.3 1390.8,2182.2 1400.0,2204.0 1412.6,2151.0 1427.8,2135.8 1432.8,2110.6 1448.0,2113.1 1453.0,2181.3 1465.6,2186.3 1470.7,2156.0 1483.3,2171.2 1490.9,2163.6 1502.2,2246.9 1508.5,2075.3 1526.2,2193.9 1548.9,2166.1 1561.5,2146.0 1571.6,2140.9 1579.2,2095.5 1584.2,2166.1 1599.4,2148.5 1603.2,2070.2 1622.1,2158.6 1641.0,2062.7 1658.7,2201.5 1671.3,1970.5 1690.2,2226.7 1695.3,2113.1 1709.2,2075.3 1718.0,2092.9 1728.1,2090.4 1745.7,2115.7 1758.4,2045.0 1764.7,1944.0 1776.0,2004.6 1784.3,2077.2 1795.6,2037.4 1814.1,2090.0 1821.2,1982.0 1835.4,1994.8 1852.4,2114.1 1865.2,2065.8 1876.5,2006.2 1889.3,2139.6 1896.4,1982.0 1914.9,2207.8 1926.2,2006.2 1933.3,2134.0 1944.7,2006.2 1953.2,2065.8 1964.6,1899.7 1971.7,2108.4 1988.7,1918.2 2002.9,2064.4 2008.6,1850.0 2027.0,2090.0 2039.8,1956.5 2052.6,1977.8 2061.1,1983.5 2076.7,2053.0 2081.0,1994.8 2098.0,1975.0 2112.2,2034.6 2120.7,1994.8 2133.5,2071.5 2140.6,1963.6 2157.6,2003.4 2171.8,1983.5 2180.3,1989.2 2190.3,2046.0 2203.1,1986.3"/>
<polyline stroke="#ff0000" points="316.6,2852.4 326.7,2849.8 351.9,2902.8 359.5,2910.4 377.1,2923.0 389.7,2925.5 402.4,2938.0 415.0,2944.0 440.0,2950.0 460.0,2950.0 468.0,2945.7 478.1,2935.6 486.3,2930.3 505.3,2933.4 521.0,2927.1 536.8,2924.0 549.4,2946.0 558.9,2905.0 577.8,2933.4 584.1,2905.0 596.8,2946.0 603.1,2905.0 615.7,2920.8 622.0,2892.4 631.5,2901.9 640.9,2854.6 653.5,2920.8 659.8,2892.4 675.6,2901.9 678.8,2804.1 691.4,2851.4 697.7,2810.4 710.3,2857.7 729.3,2829.3 745.1,2883.0 754.5,2848.3 767.1,2870.3 773.4,2835.6 786.0,2835.6 801.8,2788.3 818.9,2855.0 837.9,2848.7 841.0,2817.2 852.1,2851.9 858.4,2817.2 877.3,2858.2 891.5,2823.5 896.2,2858.2 912.0,2839.3 916.7,2754.1 927.8,2826.7 935.6,2792.0 946.7,2845.6 953.0,2754.1 967.2,2826.7 984.5,2839.3 990.9,2804.6 1001.9,2839.3 1009.8,2773.0 1024.0,2773.0 1039.7,2820.3 1046.1,2785.6 1060.3,2779.3 1065.0,2845.6 1077.6,2779.3 1083.9,2826.7 1102.8,2754.1 1115.5,2845.6 1134.4,2773.0 1140.7,2795.1 1153.3,2766.7 1159.6,2833.0 1172.2,2785.6 1178.5,2785.6 1191.2,2820.3 1197.5,2804.6 1213.2,2814.0 1232.2,2779.3 1247.9,2773.0 1259.0,2839.3 1266.9,2792.0 1277.9,2833.0 1296.3,2765.1 1304.2,2777.7 1315.2,2749.3 1321.5,2837.7 1335.7,2837.7 1340.5,2730.4 1351.5,2806.1 1372.0,2762.0 1381.5,2771.4 1391.0,2806.1 1397.3,2765.1 1414.6,2755.6 1427.2,2844.0 1444.6,2762.0 1454.0,2762.0 1463.5,2803.0 1471.4,2743.0 1482.4,2831.4 1490.3,2736.7 1502.9,2831.4 1509.2,2711.5 1526.6,2777.7 1545.5,2736.7 1558.1,2812.4 1564.4,2765.1 1577.1,2774.6 1583.4,2736.7 1596.0,2780.9 1611.8,2787.2 1619.7,2774.6 1633.8,2818.7 1655.9,2780.9 1659.1,2736.7 1678.0,2796.7 1695.4,2749.3 1709.6,2777.7 1726.9,2730.4 1737.9,2765.1 1745.8,2736.7 1758.5,2765.1 1766.3,2749.3 1777.3,2756.7 1781.6,2716.1 1790.0,2690.0 1801.9,2782.8 1813.5,2680.0 1833.8,2797.3 1841.1,2685.0 1858.5,2777.0 1870.1,2680.0 1887.5,2765.4 1894.8,2753.8 1909.3,2791.5 1926.7,2685.0 1932.5,2733.5 1944.1,2730.6 1952.8,2759.6 1973.1,2680.0 1990.6,2788.6 2005.1,2782.8 2010.9,2685.0 2022.5,2742.2 2039.9,2748.0 2045.7,2690.0 2063.1,2742.2 2076.2,2700.0 2083.4,2791.5 2095.0,2716.1 2106.6,2733.5 2121.2,2736.4 2132.8,2753.8 2141.5,2710.3 2156.0,2730.6 2158.9,2759.6 2176.3,2724.8 2187.9,2765.4 2202.4,2652.2"/>
<polyline stroke="#0000ff" points="316.6,2801.9 327.9,2799.4 351.9,2902.8 364.5,2925.5 377.1,2928.1 395.0,2940.0 420.0,2955.0 429.4,2981.0 438.9,2976.8 448.3,2979.3 457.7,2970.4 467.2,2977.5 476.6,2970.3 486.0,2978.3 495.4,2976.7 504.9,2968.9 514.3,2979.7 523.7,2970.3 533.2,2975.5 542.6,2983.0 552.0,2978.9 561.4,2972.1 570.9,2971.3 580.3,2969.6 589.7,2978.4 599.2,2978.7 608.6,2975.9 618.0,2973.2 627.5,2982.8 636.9,2974.6 646.3,2974.3 655.7,2980.0 665.2,2969.1 674.6,2973.6 684.0,2973.5 693.5,2977.2 702.9,2976.3 712.3,2969.2 721.8,2980.0 731.2,2971.8 740.6,2978.0 750.0,2970.8 759.5,2974.5 768.9,2974.3 778.3,2976.7 787.8,2980.0 797.2,2979.9 806.6,2971.9 816.1,2970.9 825.5,2966.1 834.9,2977.8 844.3,2976.5 853.8,2980.4 863.2,2980.3 872.6,2977.2 882.1,2973.1 891.5,2970.8 900.9,2979.6 910.4,2977.8 919.8,2970.3 929.2,2974.7 938.6,2976.4 948.1,2977.5 957.5,2974.3 966.9,2978.8 976.4,2979.7 985.8,2969.6 995.2,2976.2 1004.7,2977.4 1014.1,2971.2 1023.5,2976.0 1032.9,2971.0 1042.4,2982.3 1051.8,2971.9 1061.2,2974.9 1070.7,2961.6 1080.1,2974.4 1089.5,2971.2 1099.0,2969.2 1108.4,2979.8 1117.8,2976.9 1127.2,2972.0 1136.7,2980.3 1146.1,2974.8 1155.5,2978.6 1165.0,2980.0 1174.4,2969.7 1183.8,2975.7 1193.3,2976.9 1202.7,2981.9 1212.1,2972.3 1221.5,2971.7 1231.0,2976.9 1240.4,2971.3 1249.8,2980.8 1259.3,2974.5 1268.7,2973.3 1278.1,2979.2 1287.6,2975.0 1297.0,2970.3 1306.4,2973.0 1315.8,2971.4 1325.3,2981.8 1334.7,2975.9 1344.1,2969.7 1353.6,2971.3 1363.0,2979.4 1372.4,2980.8 1381.9,2981.6 1391.3,2971.4 1400.7,2972.7 1410.1,2970.7 1419.6,2977.2 1429.0,2971.9 1438.4,2970.3 1447.9,2978.7 1457.3,2976.9 1466.7,2982.6 1476.2,2975.8 1485.6,2975.9 1495.0,2980.8 1504.5,2980.5 1513.9,2972.4 1523.3,2981.2 1532.7,2973.5 1542.2,2980.0 1551.6,2982.6 1561.0,2972.6 1570.5,2976.3 1579.9,2975.8 1589.3,2976.2 1598.8,2974.6 1608.2,2972.8 1617.6,2977.9 1627.0,2975.6 1636.5,2973.3 1645.9,2979.3 1655.3,2970.7 1664.8,2975.8 1674.2,2970.5 1683.6,2978.3 1693.1,2969.7 1702.5,2977.5 1711.9,2971.7 1721.3,2980.9 1730.8,2971.5 1740.2,2978.0 1749.6,2976.2 1759.1,2977.5 1768.5,2963.8 1777.9,2979.9 1787.4,2972.6 1796.8,2972.7 1806.2,2974.0 1815.6,2975.7 1825.1,2981.0 1834.5,2973.1 1843.9,2976.7 1853.4,2975.5 1862.8,2976.6 1872.2,2971.0 1881.7,2972.9 1891.1,2979.6 1900.5,2974.5 1909.9,2969.7 1919.4,2973.0 1928.8,2968.5 1938.2,2973.6 1947.7,2981.7 1957.1,2975.0 1966.5,2980.1 1976.0,2973.7 1985.4,2980.0 1994.8,2971.0 2004.2,2975.9 2013.7,2972.7 2023.1,2976.9 2032.5,2980.8 2042.0,2980.3 2051.4,2972.8 2060.8,2982.1 2070.3,2982.4 2079.7,2973.0 2089.1,2981.4 2098.5,2978.5 2108.0,2969.2 2117.4,2981.2 2126.8,2980.8 2136.3,2972.1 2145.7,2969.0 2155.1,2967.3 2164.6,2982.9 2174.0,2972.1 2183.4,2975.3 2192.8,2964.4 2202.3,2976.7 2204.0,2980.4"/>
<polyline stroke="#00ffff" points="316.6,2857.4 327.0,2860.0 345.0,2905.0 360.0,2930.0 380.0,2945.0 400.0,2955.0 409.4,2968.0 418.9,2970.6 428.3,2977.9 437.7,2964.3 447.2,2974.9 456.6,2979.4 466.0,2965.3 475.4,2966.6 484.9,2978.1 494.3,2970.4 503.7,2975.5 513.2,2974.0 522.6,2967.2 532.0,2970.7 541.4,2975.6 550.9,2977.1 560.3,2969.3 569.7,2965.3 579.2,2966.7 588.6,2977.4 598.0,2969.5 607.5,2964.5 616.9,2975.7 626.3,2967.9 635.7,2966.2 645.2,2966.6 654.6,2964.7 664.0,2973.9 673.5,2970.8 682.9,2975.7 692.3,2969.5 701.8,2964.3 711.2,2978.3 720.6,2977.5 730.0,2976.3 739.5,2978.4 748.9,2970.9 758.3,2969.2 767.8,2971.0 777.2,2976.2 786.6,2971.2 796.1,2975.0 805.5,2970.7 814.9,2979.5 824.3,2979.6 833.8,2967.8 843.2,2974.5 852.6,2978.2 862.1,2969.5 871.5,2970.2 880.9,2971.1 890.4,2976.6 899.8,2970.0 909.2,2976.9 918.6,2976.9 928.1,2969.1 937.5,2977.1 946.9,2977.2 956.4,2972.3 965.8,2972.9 975.2,2979.8 984.7,2976.1 994.1,2975.2 1003.5,2966.0 1012.9,2976.3 1022.4,2966.0 1031.8,2968.3 1041.2,2967.2 1050.7,2973.0 1060.1,2971.6 1069.5,2973.7 1079.0,2971.4 1088.4,2958.7 1097.8,2964.5 1107.2,2968.3 1116.7,2966.1 1126.1,2973.1 1135.5,2976.9 1145.0,2967.1 1154.4,2970.5 1163.8,2979.0 1173.3,2976.8 1182.7,2969.7 1192.1,2967.5 1201.5,2969.5 1211.0,2970.4 1220.4,2970.8 1229.8,2964.8 1239.3,2974.4 1248.7,2966.0 1258.1,2970.6 1267.6,2973.0 1277.0,2966.4 1286.4,2964.8 1295.8,2976.5 1305.3,2969.3 1314.7,2979.2 1324.1,2970.8 1333.6,2977.2 1343.0,2972.5 1352.4,2971.3 1361.9,2966.7 1371.3,2979.0 1380.7,2972.9 1390.1,2972.5 1399.6,2966.2 1409.0,2968.3 1418.4,2975.0 1427.9,2965.3 1437.3,2978.7 1446.7,2971.4 1456.2,2968.6 1465.6,2970.4 1475.0,2969.9 1484.5,2973.1 1493.9,2964.8 1503.3,2974.4 1512.7,2979.6 1522.2,2966.8 1531.6,2978.3 1541.0,2969.9 1550.5,2979.7 1559.9,2959.2 1569.3,2979.5 1578.8,2964.1 1588.2,2979.8 1597.6,2975.6 1607.0,2964.3 1616.5,2964.4 1625.9,2972.4 1635.3,2963.2 1644.8,2967.0 1654.2,2976.7 1663.6,2975.7 1673.1,2971.6 1682.5,2979.6 1691.9,2973.5 1701.3,2964.5 1710.8,2972.4 1720.2,2970.4 1729.6,2964.8 1739.1,2966.6 1748.5,2963.5 1757.9,2979.1 1767.4,2973.5 1776.8,2973.3 1786.2,2974.0 1795.6,2974.4 1805.1,2974.3 1814.5,2972.0 1823.9,2964.0 1833.4,2976.4 1842.8,2979.4 1852.2,2975.8 1861.7,2970.6 1871.1,2978.4 1880.5,2970.9 1889.9,2970.7 1899.4,2966.9 1908.8,2966.7 1918.2,2968.8 1927.7,2964.8 1937.1,2976.5 1946.5,2964.2 1956.0,2969.0 1965.4,2968.8 1974.8,2966.0 1984.2,2972.9 1993.7,2968.3 2003.1,2972.5 2012.5,2976.3 2022.0,2975.2 2031.4,2974.2 2040.8,2976.3 2050.3,2978.4 2059.7,2971.0 2069.1,2969.1 2078.5,2964.1 2088.0,2970.1 2097.4,2977.6 2106.8,2968.6 2116.3,2967.8 2125.7,2978.8 2135.1,2977.2 2144.6,2978.7 2154.0,2965.4 2163.4,2969.9 2172.8,2979.8 2182.3,2972.2 2191.7,2978.2 2201.1,2971.5 2204.0,2969.5"/>
<polyline stroke="#ff00ff" points="316.6,2809.5 327.9,2807.0 344.3,2890.2 351.9,2915.5 372.1,2933.1 382.2,2943.2 405.0,2955.0 414.4,2967.5 423.9,2968.3 433.3,2967.2 442.7,2973.0 452.2,2969.7 461.6,2967.2 471.0,2979.2 480.4,2978.3 489.9,2970.8 499.3,2971.0 508.7,2977.0 518.2,2974.8 527.6,2980.2 537.0,2979.8 546.4,2973.2 555.9,2969.4 565.3,2979.5 574.7,2978.7 584.2,2978.5 593.6,2978.1 603.0,2971.9 612.5,2980.8 621.9,2970.9 631.3,2976.1 640.7,2978.2 650.2,2959.7 659.6,2969.1 669.0,2967.5 678.5,2979.0 687.9,2978.3 697.3,2975.9 706.8,2971.1 716.2,2969.4 725.6,2967.6 735.0,2978.8 744.5,2968.3 753.9,2959.1 763.3,2979.1 772.8,2975.8 782.2,2973.6 791.6,2980.2 801.1,2970.2 810.5,2979.0 819.9,2979.5 829.3,2970.1 838.8,2980.6 848.2,2978.0 857.6,2975.2 867.1,2970.9 876.5,2980.0 885.9,2979.6 895.4,2968.0 904.8,2977.7 914.2,2973.7 923.6,2980.9 933.1,2972.8 942.5,2971.6 951.9,2973.3 961.4,2964.2 970.8,2968.0 980.2,2967.1 989.7,2968.6 999.1,2968.0 1008.5,2969.9 1017.9,2967.0 1027.4,2969.5 1036.8,2979.8 1046.2,2964.2 1055.7,2967.2 1065.1,2967.7 1074.5,2968.0 1084.0,2978.7 1093.4,2980.6 1102.8,2978.4 1112.2,2969.5 1121.7,2975.8 1131.1,2978.3 1140.5,2967.4 1150.0,2976.2 1159.4,2961.2 1168.8,2979.8 1178.3,2968.3 1187.7,2969.9 1197.1,2969.6 1206.5,2970.1 1216.0,2965.4 1225.4,2977.1 1234.8,2968.7 1244.3,2974.0 1253.7,2972.8 1263.1,2977.5 1272.6,2967.8 1282.0,2967.8 1291.4,2976.8 1300.8,2968.8 1310.3,2976.6 1319.7,2968.1 1329.1,2980.0 1338.6,2978.0 1348.0,2978.2 1357.4,2974.3 1366.9,2971.0 1376.3,2969.0 1385.7,2980.0 1395.1,2972.0 1404.6,2975.2 1414.0,2967.1 1423.4,2974.3 1432.9,2972.7 1442.3,2973.3 1451.7,2975.5 1461.2,2979.3 1470.6,2979.4 1480.0,2979.5 1489.5,2973.3 1498.9,2980.8 1508.3,2975.8 1517.7,2974.4 1527.2,2974.3 1536.6,2974.5 1546.0,2979.6 1555.5,2975.3 1564.9,2975.7 1574.3,2967.5 1583.8,2973.5 1593.2,2969.5 1602.6,2976.9 1612.0,2969.0 1621.5,2970.8 1630.9,2973.3 1640.3,2971.5 1649.8,2980.1 1659.2,2976.9 1668.6,2971.8 1678.1,2973.4 1687.5,2977.1 1696.9,2978.2 1706.3,2976.7 1715.8,2977.3 1725.2,2968.7 1734.6,2967.5 1744.1,2980.9 1753.5,2971.9 1762.9,2977.4 1772.4,2980.8 1781.8,2975.4 1791.2,2968.0 1800.6,2972.2 1810.1,2976.3 1819.5,2972.4 1828.9,2970.2 1838.4,2973.8 1847.8,2978.3 1857.2,2980.5 1866.7,2974.7 1876.1,2966.4 1885.5,2974.0 1894.9,2969.7 1904.4,2976.1 1913.8,2978.4 1923.2,2972.4 1932.7,2967.6 1942.1,2973.8 1951.5,2973.3 1961.0,2967.0 1970.4,2971.6 1979.8,2972.2 1989.2,2971.4 1998.7,2958.9 2008.1,2971.5 2017.5,2969.7 2027.0,2973.3 2036.4,2976.3 2045.8,2979.3 2055.3,2976.7 2064.7,2968.2 2074.1,2977.3 2083.5,2978.9 2093.0,2967.6 2102.4,2972.3 2111.8,2974.3 2121.3,2978.3 2130.7,2971.6 2140.1,2978.2 2149.6,2968.0 2159.0,2970.6 2168.4,2975.7 2177.8,2968.4 2187.3,2969.2 2196.7,2973.4 2204.0,2967.7"/>
<polyline stroke="#ffff00" points="316.6,2855.0 330.0,2858.0 344.3,2902.8 357.0,2948.3 380.0,2960.0 389.4,2975.4 398.9,2972.2 408.3,2980.4 417.7,2977.8 427.2,2978.6 436.6,2969.7 446.0,2972.0 455.4,2982.8 464.9,2982.8 474.3,2972.1 483.7,2976.2 493.2,2970.0 502.6,2969.2 512.0,2981.2 521.5,2970.2 530.9,2976.1 540.3,2971.4 549.7,2980.6 559.2,2977.7 568.6,2972.5 578.0,2973.2 587.5,2976.6 596.9,2973.8 606.3,2980.6 615.7,2972.3 625.2,2977.5 634.6,2982.1 644.0,2978.5 653.5,2970.7 662.9,2979.7 672.3,2975.5 681.8,2982.3 691.2,2982.3 700.6,2982.9 710.0,2971.0 719.5,2972.7 728.9,2970.6 738.3,2969.0 747.8,2975.4 757.2,2972.5 766.6,2973.9 776.1,2975.6 785.5,2974.3 794.9,2976.7 804.3,2981.0 813.8,2977.0 823.2,2969.2 832.6,2977.1 842.1,2973.6 851.5,2974.2 860.9,2966.6 870.4,2982.3 879.8,2982.7 889.2,2979.5 898.6,2981.3 908.1,2976.3 917.5,2969.3 926.9,2969.2 936.4,2981.1 945.8,2973.5 955.2,2978.6 964.7,2975.4 974.1,2982.6 983.5,2971.7 992.9,2982.2 1002.4,2977.9 1011.8,2979.5 1021.2,2974.1 1030.7,2971.2 1040.1,2980.1 1049.5,2982.0 1059.0,2979.5 1068.4,2973.2 1077.8,2980.5 1087.2,2976.7 1096.7,2981.8 1106.1,2976.2 1115.5,2978.5 1125.0,2975.2 1134.4,2971.9 1143.8,2972.9 1153.3,2978.8 1162.7,2982.1 1172.1,2979.9 1181.5,2974.2 1191.0,2981.9 1200.4,2972.2 1209.8,2977.5 1219.3,2977.5 1228.7,2980.9 1238.1,2975.4 1247.6,2982.9 1257.0,2973.3 1266.4,2973.2 1275.8,2974.0 1285.3,2968.6 1294.7,2975.0 1304.1,2977.5 1313.6,2974.5 1323.0,2975.4 1332.4,2972.5 1341.9,2976.9 1351.3,2981.2 1360.7,2976.1 1370.1,2980.1 1379.6,2982.9 1389.0,2981.1 1398.4,2980.0 1407.9,2975.3 1417.3,2975.6 1426.7,2970.7 1436.2,2977.5 1445.6,2982.5 1455.0,2970.8 1464.5,2978.2 1473.9,2976.5 1483.3,2972.8 1492.7,2971.9 1502.2,2971.7 1511.6,2970.5 1521.0,2970.2 1530.5,2980.9 1539.9,2969.8 1549.3,2980.9 1558.8,2969.1 1568.2,2980.5 1577.6,2972.6 1587.0,2973.1 1596.5,2974.2 1605.9,2972.2 1615.3,2980.3 1624.8,2978.3 1634.2,2970.6 1643.6,2969.3 1653.1,2975.5 1662.5,2979.3 1671.9,2973.2 1681.3,2977.8 1690.8,2970.8 1700.2,2980.0 1709.6,2974.7 1719.1,2982.2 1728.5,2959.7 1737.9,2972.9 1747.4,2971.8 1756.8,2975.3 1766.2,2981.6 1775.6,2973.5 1785.1,2980.8 1794.5,2970.2 1803.9,2976.5 1813.4,2972.0 1822.8,2972.0 1832.2,2981.9 1841.7,2977.9 1851.1,2973.2 1860.5,2973.2 1869.9,2972.3 1879.4,2979.7 1888.8,2980.6 1898.2,2972.9 1907.7,2970.4 1917.1,2982.6 1926.5,2970.1 1936.0,2979.5 1945.4,2974.0 1954.8,2976.4 1964.2,2979.0 1973.7,2972.4 1983.1,2978.8 1992.5,2977.7 2002.0,2976.2 2011.4,2978.9 2020.8,2972.8 2030.3,2976.1 2039.7,2981.1 2049.1,2978.9 2058.5,2971.5 2068.0,2975.8 2077.4,2971.2 2086.8,2972.2 2096.3,2981.9 2105.7,2980.9 2115.1,2980.0 2124.6,2969.7 2134.0,2976.4 2143.4,2978.7 2152.8,2979.7 2162.3,2979.5 2171.7,2976.8 2181.1,2982.0 2190.6,2977.6 2200.0,2975.6 2204.0,2971.1"/>
<polyline stroke="#000000" points="316.6,2849.8 327.9,2847.3 344.3,2915.5 351.9,2935.6 377.1,2960.9 397.3,2965.9 406.7,2974.2 416.2,2977.3 425.6,2975.3 435.0,2966.6 444.5,2962.1 453.9,2976.7 463.3,2966.8 472.7,2964.0 482.2,2969.3 491.6,2967.4 501.0,2966.9 510.5,2970.3 519.9,2968.6 529.3,2967.0 538.8,2964.3 548.2,2971.4 557.6,2971.3 567.0,2968.8 576.5,2961.3 585.9,2970.8 595.3,2973.0 604.8,2966.6 614.2,2970.8 623.6,2969.6 633.0,2976.2 642.5,2974.1 651.9,2966.9 661.3,2966.9 670.8,2974.0 680.2,2969.6 689.6,2967.2 699.1,2966.3 708.5,2967.5 717.9,2974.8 727.3,2976.4 736.8,2973.3 746.2,2968.5 755.6,2975.0 765.1,2974.0 774.5,2977.5 783.9,2967.8 793.4,2977.9 802.8,2965.7 812.2,2969.9 821.6,2964.2 831.1,2977.3 840.5,2977.4 849.9,2975.7 859.4,2977.1 868.8,2971.5 878.2,2967.4 887.7,2966.5 897.1,2972.8 906.5,2968.3 915.9,2965.2 925.4,2972.4 934.8,2971.1 944.2,2974.3 953.7,2975.2 963.1,2970.2 972.5,2976.5 982.0,2977.1 991.4,2975.3 1000.8,2967.1 1010.2,2967.0 1019.7,2969.8 1029.1,2975.4 1038.5,2972.4 1048.0,2968.9 1057.4,2968.6 1066.8,2969.5 1076.3,2970.7 1085.7,2966.4 1095.1,2967.5 1104.5,2970.6 1114.0,2968.8 1123.4,2970.5 1132.8,2973.0 1142.3,2970.4 1151.7,2967.2 1161.1,2975.8 1170.6,2970.8 1180.0,2972.2 1189.4,2976.7 1198.8,2972.0 1208.3,2968.5 1217.7,2965.4 1227.1,2975.3 1236.6,2977.4 1246.0,2966.9 1255.4,2977.6 1264.9,2974.4 1274.3,2973.0 1283.7,2964.4 1293.1,2974.6 1302.6,2966.0 1312.0,2972.4 1321.4,2975.0 1330.9,2969.5 1340.3,2964.6 1349.7,2972.4 1359.2,2965.1 1368.6,2968.9 1378.0,2955.3 1387.4,2974.8 1396.9,2970.5 1406.3,2974.3 1415.7,2968.2 1425.2,2967.0 1434.6,2966.7 1444.0,2972.3 1453.5,2969.5 1462.9,2971.8 1472.3,2968.6 1481.8,2967.0 1491.2,2968.2 1500.6,2976.9 1510.0,2977.3 1519.5,2977.1 1528.9,2968.5 1538.3,2976.9 1547.8,2970.2 1557.2,2968.6 1566.6,2968.8 1576.1,2977.4 1585.5,2976.5 1594.9,2974.7 1604.3,2969.8 1613.8,2966.4 1623.2,2975.7 1632.6,2974.0 1642.1,2970.7 1651.5,2967.5 1660.9,2969.0 1670.4,2975.6 1679.8,2969.4 1689.2,2966.2 1698.6,2972.1 1708.1,2963.7 1717.5,2973.9 1726.9,2967.2 1736.4,2966.4 1745.8,2972.3 1755.2,2969.0 1764.7,2964.1 1774.1,2967.2 1783.5,2976.4 1792.9,2965.7 1802.4,2973.2 1811.8,2973.5 1821.2,2969.4 1830.7,2968.0 1840.1,2965.7 1849.5,2969.5 1859.0,2978.0 1868.4,2971.0 1877.8,2975.5 1887.2,2970.2 1896.7,2970.9 1906.1,2973.1 1915.5,2970.6 1925.0,2965.9 1934.4,2977.6 1943.8,2960.0 1953.3,2960.4 1962.7,2968.9 1972.1,2971.4 1981.5,2973.8 1991.0,2958.0 2000.4,2972.8 2009.8,2974.1 2019.3,2974.3 2028.7,2965.9 2038.1,2966.0 2047.6,2976.8 2057.0,2972.1 2066.4,2974.1 2075.8,2973.7 2085.3,2977.6 2094.7,2965.1 2104.1,2958.5 2113.6,2977.0 2123.0,2965.9 2132.4,2966.3 2141.9,2971.2 2151.3,2973.0 2160.7,2973.0 2170.1,2966.7 2179.6,2971.0 2189.0,2975.4 2198.4,2975.2 2204.0,2965.0"/>
<polyline stroke="#4dc9e5" points="316.6,2862.5 326.7,2862.5 336.8,2902.8 341.8,2925.0 353.9,2920.8 357.0,2935.6 379.1,2958.7 391.7,2939.7 410.6,2952.4 420.1,2965.0 442.2,2961.8 454.8,2971.3 464.3,2949.2 473.7,2968.1 492.7,2961.8 505.3,2968.1 517.9,2961.8 536.8,2968.1 549.4,2961.8 568.4,2968.1 612.5,2961.8 625.2,2968.1 663.0,2968.1 681.9,2955.5 694.5,2958.7 713.5,2971.3 751.3,2971.3 776.6,2955.5 792.3,2968.1 816.0,2968.1 825.4,2974.3 834.9,2970.1 844.3,2971.8 853.7,2962.6 863.1,2961.8 872.6,2972.3 882.0,2965.4 891.4,2968.6 900.9,2964.1 910.3,2968.7 919.7,2966.5 929.2,2971.2 938.6,2973.1 948.0,2969.3 957.4,2964.9 966.9,2964.7 976.3,2971.1 985.7,2966.8 995.2,2961.4 1004.6,2971.7 1014.0,2967.3 1023.5,2963.1 1032.9,2961.2 1042.3,2964.9 1051.7,2961.5 1061.2,2971.8 1070.6,2961.5 1080.0,2967.0 1089.5,2966.0 1098.9,2962.8 1108.3,2968.7 1117.8,2967.1 1127.2,2961.0 1136.6,2972.8 1146.0,2964.6 1155.5,2963.0 1164.9,2970.2 1174.3,2962.1 1183.8,2965.8 1193.2,2966.3 1202.6,2967.2 1212.1,2975.2 1221.5,2971.4 1230.9,2965.2 1240.4,2973.9 1249.8,2972.2 1259.2,2964.4 1268.6,2965.1 1278.1,2962.4 1287.5,2966.8 1296.9,2974.6 1306.4,2966.0 1315.8,2967.0 1325.2,2974.3 1334.7,2974.7 1344.1,2964.3 1353.5,2971.1 1362.9,2961.2 1372.4,2962.5 1381.8,2968.1 1391.2,2969.3 1400.7,2965.4 1410.1,2962.7 1419.5,2964.4 1429.0,2973.4 1438.4,2970.8 1447.8,2975.5 1457.2,2965.3 1466.7,2967.3 1476.1,2973.5 1485.5,2970.1 1495.0,2965.5 1504.4,2968.6 1513.8,2962.2 1523.3,2972.7 1532.7,2963.8 1542.1,2968.2 1551.5,2968.4 1561.0,2964.7 1570.4,2974.1 1579.8,2966.8 1589.3,2974.7 1598.7,2972.3 1608.1,2967.7 1617.6,2960.7 1627.0,2961.4 1636.4,2972.9 1645.8,2966.6 1655.3,2961.3 1664.7,2964.4 1674.1,2964.7 1683.6,2974.6 1693.0,2973.9 1702.4,2963.5 1711.9,2962.0 1721.3,2969.1 1730.7,2971.7 1740.1,2969.5 1749.6,2974.1 1759.0,2974.6 1768.4,2968.9 1777.9,2973.9 1787.3,2965.2 1796.7,2972.1 1806.2,2963.7 1815.6,2964.8 1825.0,2964.6 1834.4,2964.2 1843.9,2960.7 1853.3,2969.6 1862.7,2973.4 1872.2,2964.4 1881.6,2973.5 1891.0,2966.9 1900.5,2962.9 1909.9,2961.3 1919.3,2966.8 1928.7,2971.5 1938.2,2967.7 1947.6,2971.0 1957.0,2974.4 1966.5,2967.3 1975.9,2966.4 1985.3,2965.9 1994.8,2974.3 2004.2,2960.9 2013.6,2964.0 2023.0,2961.7 2032.5,2969.0 2041.9,2964.9 2051.3,2971.3 2060.8,2962.0 2070.2,2960.9 2079.6,2971.0 2089.1,2972.4 2098.5,2966.2 2107.9,2964.2 2117.3,2964.4 2126.8,2968.0 2136.2,2965.1 2145.6,2971.3 2155.1,2969.7 2164.5,2961.5 2173.9,2962.7 2183.4,2975.1 2192.8,2967.6 2202.2,2971.5 2204.0,2963.7"/>
</g>
<rect x="497.4" y="203.3" width="824.6" height="443.3" fill="#fff" stroke="#000" stroke-width="2"/>
<line x1="546.7" y1="265.7" x2="798" y2="265.7" stroke="#ff00ff" stroke-width="14"/>
<line x1="546.7" y1="372.0" x2="798" y2="372.0" stroke="#ffff00" stroke-width="14"/>
<line x1="546.7" y1="471.4" x2="798" y2="471.4" stroke="#000000" stroke-width="14"/>
<line x1="546.7" y1="577.7" x2="798" y2="577.7" stroke="#4dc9e5" stroke-width="14"/>
<rect x="1346.3" y="203.3" width="825.7" height="443.3" fill="#fff" stroke="#000" stroke-width="2"/>
<line x1="1396.2" y1="265.7" x2="1646.9" y2="265.7" stroke="#00ff00" stroke-width="14"/>
<line x1="1396.2" y1="372.0" x2="1646.9" y2="372.0" stroke="#ff0000" stroke-width="14"/>
<line x1="1396.2" y1="471.4" x2="1646.9" y2="471.4" stroke="#0000ff" stroke-width="14"/>
<line x1="1396.2" y1="577.7" x2="1646.9" y2="577.7" stroke="#00ffff" stroke-width="14"/>
<rect x="347.4" y="1876" width="824.6" height="444" fill="#fff" stroke="#000" stroke-width="2"/>
<line x1="396.7" y1="1938.9" x2="648" y2="1938.9" stroke="#ff00ff" stroke-width="14"/>
<line x1="396.7" y1="2045.2" x2="648" y2="2045.2" stroke="#ffff00" stroke-width="14"/>
<line x1="396.7" y1="2144.6" x2="648" y2="2144.6" stroke="#000000" stroke-width="14"/>
<line x1="396.7" y1="2250.9" x2="648" y2="2250.9" stroke="#4dc9e5" stroke-width="14"/>
<rect x="1277.9" y="2257.9" width="824.6999999999998" height="442.1999999999998" fill="#fff" stroke="#000" stroke-width="2"/>
<line x1="1326.7" y1="2320.1" x2="1578" y2="2320.1" stroke="#00ff00" stroke-width="14"/>
<line x1="1326.7" y1="2426.4" x2="1578" y2="2426.4" stroke="#ff0000" stroke-width="14"/>
<line x1="1326.7" y1="2525.8" x2="1578" y2="2525.8" stroke="#0000ff" stroke-width="14"/>
<line x1="1326.7" y1="2632.1000000000004" x2="1578" y2="2632.1000000000004" stroke="#00ffff" stroke-width="14"/>
<g>
<text class="lg" transform="translate(822.8 291.8) scale(0.94 1)" font-size="71">256</text>
<text class="lg" transform="translate(942.6 281.7) scale(0.817 0.939)" font-size="71">—</text>
<text class="lg" transform="translate(1016.1 291.8) scale(0.94 1)" font-size="71">256</text>
<text class="lg" transform="translate(1136.0 281.7) scale(0.817 0.939)" font-size="71">—</text>
<text class="lg" transform="translate(1209.5 291.8) scale(0.94 1)" font-size="71">16</text>
<text class="lg" transform="translate(822.8 398.1) scale(0.94 1)" font-size="71">256</text>
<text class="lg" transform="translate(942.6 388.0) scale(0.817 0.939)" font-size="71">—</text>
<text class="lg" transform="translate(1016.1 398.1) scale(0.94 1)" font-size="71">256</text>
<text class="lg" transform="translate(1136.0 388.0) scale(0.817 0.939)" font-size="71">—</text>
<text class="lg" transform="translate(1209.5 398.1) scale(0.94 1)" font-size="71">64</text>
<text class="lg" transform="translate(823.0 497.5) scale(0.94 1)" font-size="71">512</text>
<text class="lg" transform="translate(942.9 487.4) scale(0.817 0.939)" font-size="71">—</text>
<text class="lg" transform="translate(1016.4 497.5) scale(0.94 1)" font-size="71">512</text>
<text class="lg" transform="translate(1136.2 487.4) scale(0.817 0.939)" font-size="71">—</text>
<text class="lg" transform="translate(1209.7 497.5) scale(0.94 1)" font-size="71">16</text>
<text class="lg" transform="translate(823.0 603.8) scale(0.94 1)" font-size="71">512</text>
<text class="lg" transform="translate(942.9 593.7) scale(0.817 0.939)" font-size="71">—</text>
<text class="lg" transform="translate(1016.4 603.8) scale(0.94 1)" font-size="71">512</text>
<text class="lg" transform="translate(1136.2 593.7) scale(0.817 0.939)" font-size="71">—</text>
<text class="lg" transform="translate(1209.7 603.8) scale(0.94 1)" font-size="71">64</text>
<text class="lg" transform="translate(1672.0 291.8) scale(0.94 1)" font-size="71">64</text>
<text class="lg" transform="translate(1754.8 281.7) scale(0.817 0.939)" font-size="71">—</text>
<text class="lg" transform="translate(1828.3 291.8) scale(0.94 1)" font-size="71">64</text>
<text class="lg" transform="translate(1911.0 281.7) scale(0.817 0.939)" font-size="71">—</text>
<text class="lg" transform="translate(1984.5 291.8) scale(0.94 1)" font-size="71">16</text>
<text class="lg" transform="translate(1672.0 398.1) scale(0.94 1)" font-size="71">64</text>
<text class="lg" transform="translate(1754.8 388.0) scale(0.817 0.939)" font-size="71">—</text>
<text class="lg" transform="translate(1828.3 398.1) scale(0.94 1)" font-size="71">64</text>
<text class="lg" transform="translate(1911.0 388.0) scale(0.817 0.939)" font-size="71">—</text>
<text class="lg" transform="translate(1984.5 398.1) scale(0.94 1)" font-size="71">64</text>
<text class="lg" transform="translate(1670.3 497.5) scale(0.94 1)" font-size="71">128</text>
<text class="lg" transform="translate(1790.1 487.4) scale(0.817 0.939)" font-size="71">—</text>
<text class="lg" transform="translate(1863.6 497.5) scale(0.94 1)" font-size="71">128</text>
<text class="lg" transform="translate(1983.5 487.4) scale(0.817 0.939)" font-size="71">—</text>
<text class="lg" transform="translate(2057.0 497.5) scale(0.94 1)" font-size="71">16</text>
<text class="lg" transform="translate(1670.3 603.8) scale(0.94 1)" font-size="71">128</text>
<text class="lg" transform="translate(1790.1 593.7) scale(0.817 0.939)" font-size="71">—</text>
<text class="lg" transform="translate(1863.6 603.8) scale(0.94 1)" font-size="71">128</text>
<text class="lg" transform="translate(1983.5 593.7) scale(0.817 0.939)" font-size="71">—</text>
<text class="lg" transform="translate(2057.0 603.8) scale(0.94 1)" font-size="71">64</text>
<text class="lg" transform="translate(672.8 1965.0) scale(0.94 1)" font-size="71">256</text>
<text class="lg" transform="translate(792.6 1954.9) scale(0.817 0.939)" font-size="71">—</text>
<text class="lg" transform="translate(866.1 1965.0) scale(0.94 1)" font-size="71">256</text>
<text class="lg" transform="translate(986.0 1954.9) scale(0.817 0.939)" font-size="71">—</text>
<text class="lg" transform="translate(1059.5 1965.0) scale(0.94 1)" font-size="71">16</text>
<text class="lg" transform="translate(672.8 2071.3) scale(0.94 1)" font-size="71">256</text>
<text class="lg" transform="translate(792.6 2061.2) scale(0.817 0.939)" font-size="71">—</text>
<text class="lg" transform="translate(866.1 2071.3) scale(0.94 1)" font-size="71">256</text>
<text class="lg" transform="translate(986.0 2061.2) scale(0.817 0.939)" font-size="71">—</text>
<text class="lg" transform="translate(1059.5 2071.3) scale(0.94 1)" font-size="71">64</text>
<text class="lg" transform="translate(673.0 2170.7) scale(0.94 1)" font-size="71">512</text>
<text class="lg" transform="translate(792.9 2160.6) scale(0.817 0.939)" font-size="71">—</text>
<text class="lg" transform="translate(866.4 2170.7) scale(0.94 1)" font-size="71">512</text>
<text class="lg" transform="translate(986.2 2160.6) scale(0.817 0.939)" font-size="71">—</text>
<text class="lg" transform="translate(1059.7 2170.7) scale(0.94 1)" font-size="71">16</text>
<text class="lg" transform="translate(673.0 2277.0) scale(0.94 1)" font-size="71">512</text>
<text class="lg" transform="translate(792.9 2266.9) scale(0.817 0.939)" font-size="71">—</text>
<text class="lg" transform="translate(866.4 2277.0) scale(0.94 1)" font-size="71">512</text>
<text class="lg" transform="translate(986.2 2266.9) scale(0.817 0.939)" font-size="71">—</text>
<text class="lg" transform="translate(1059.7 2277.0) scale(0.94 1)" font-size="71">64</text>
<text class="lg" transform="translate(1602.0 2346.2) scale(0.94 1)" font-size="71">64</text>
<text class="lg" transform="translate(1684.8 2336.1) scale(0.817 0.939)" font-size="71">—</text>
<text class="lg" transform="translate(1758.3 2346.2) scale(0.94 1)" font-size="71">64</text>
<text class="lg" transform="translate(1841.0 2336.1) scale(0.817 0.939)" font-size="71">—</text>
<text class="lg" transform="translate(1914.5 2346.2) scale(0.94 1)" font-size="71">16</text>
<text class="lg" transform="translate(1602.0 2452.5) scale(0.94 1)" font-size="71">64</text>
<text class="lg" transform="translate(1684.8 2442.4) scale(0.817 0.939)" font-size="71">—</text>
<text class="lg" transform="translate(1758.3 2452.5) scale(0.94 1)" font-size="71">64</text>
<text class="lg" transform="translate(1841.0 2442.4) scale(0.817 0.939)" font-size="71">—</text>
<text class="lg" transform="translate(1914.5 2452.5) scale(0.94 1)" font-size="71">64</text>
<text class="lg" transform="translate(1600.3 2551.9) scale(0.94 1)" font-size="71">128</text>
<text class="lg" transform="translate(1720.1 2541.8) scale(0.817 0.939)" font-size="71">—</text>
<text class="lg" transform="translate(1793.6 2551.9) scale(0.94 1)" font-size="71">128</text>
<text class="lg" transform="translate(1913.5 2541.8) scale(0.817 0.939)" font-size="71">—</text>
<text class="lg" transform="translate(1987.0 2551.9) scale(0.94 1)" font-size="71">16</text>
<text class="lg" transform="translate(1600.3 2658.2) scale(0.94 1)" font-size="71">128</text>
<text class="lg" transform="translate(1720.1 2648.1) scale(0.817 0.939)" font-size="71">—</text>
<text class="lg" transform="translate(1793.6 2658.2) scale(0.94 1)" font-size="71">128</text>
<text class="lg" transform="translate(1913.5 2648.1) scale(0.817 0.939)" font-size="71">—</text>
<text class="lg" transform="translate(1987.0 2658.2) scale(0.94 1)" font-size="71">64</text>
</g>
<g>
<text class="t" transform="translate(248.2 438.6) scale(0.96 1)" font-size="83.5">2</text>
<text class="t" transform="translate(181.1 694.6) scale(0.96 1)" font-size="83.5">1.9</text>
<text class="t" transform="translate(180.8 950.1) scale(0.96 1)" font-size="83.5">1.8</text>
<text class="t" transform="translate(181.4 1206.2) scale(0.96 1)" font-size="83.5">1.7</text>
<text class="t" transform="translate(297.6 1405.9) scale(0.9771 1)" font-size="83.5">0</text>
<text class="t" transform="translate(740.5 1405.9) scale(0.9657 1)" font-size="83.5">50</text>
<text class="t" transform="translate(1199.4 1405.9) scale(0.9447 1)" font-size="83.5">100</text>
<text class="t" transform="translate(1669.2 1405.9) scale(0.9169 1)" font-size="83.5">150</text>
<text class="t" transform="translate(2137.9 1405.9) scale(0.9625 1)" font-size="83.5">200</text>
<text xml:space="preserve" class="t" transform="translate(903.9 1511.9) scale(0.96 1)" font-size="83.5">Number of  Epochs</text>
<text class="t" font-size="83.5" transform="translate(110 920.2) rotate(-90) scale(0.975 1)">Loss (m<tspan font-size="71.6" dy="-36">2</tspan><tspan dy="36">)</tspan></text>
<text class="t" transform="translate(316.7 109.2) scale(0.96 1)" font-size="83.5">x</text>
<text class="t" transform="translate(387.8 109.7) scale(0.96 1)" font-size="83.5">10</text>
<text letter-spacing="3" class="t" transform="translate(481.3 54.0) scale(1.0 1)" font-size="53.5">-3</text>
<text class="t" transform="translate(248.2 1856.1) scale(0.96 1)" font-size="83.5">7</text>
<text class="t" transform="translate(247.8 2062.1) scale(0.96 1)" font-size="83.5">6</text>
<text class="t" transform="translate(247.6 2274.2) scale(0.96 1)" font-size="83.5">5</text>
<text class="t" transform="translate(246.6 2480.1) scale(0.96 1)" font-size="83.5">4</text>
<text class="t" transform="translate(247.8 2692.6) scale(0.96 1)" font-size="83.5">3</text>
<text class="t" transform="translate(248.2 2904.6) scale(0.96 1)" font-size="83.5">2</text>
<text class="t" transform="translate(297.6 3079.3) scale(0.9771 1)" font-size="83.5">0</text>
<text class="t" transform="translate(740.5 3079.3) scale(0.9657 1)" font-size="83.5">50</text>
<text class="t" transform="translate(1199.4 3079.3) scale(0.9447 1)" font-size="83.5">100</text>
<text class="t" transform="translate(1669.2 3079.3) scale(0.9169 1)" font-size="83.5">150</text>
<text class="t" transform="translate(2137.9 3079.3) scale(0.9625 1)" font-size="83.5">200</text>
<text xml:space="preserve" class="t" transform="translate(903.9 3185.6) scale(0.96 1)" font-size="83.5">Number of  Epochs</text>
<text class="t" font-size="83.5" transform="translate(178.7 2594.5) rotate(-90) scale(0.975 1)">Loss (m<tspan font-size="71.6" dy="-36">2</tspan><tspan dy="36">)</tspan></text>
<text class="t" transform="translate(316.7 1789.2) scale(0.96 1)" font-size="83.5">x</text>
<text class="t" transform="translate(387.8 1789.7) scale(0.96 1)" font-size="83.5">10</text>
<text letter-spacing="3" class="t" transform="translate(481.3 1734.0) scale(1.0 1)" font-size="53.5">-3</text>
</g>
<g class="cap">
<text transform="translate(1118.3 1646) scale(0.95 1)" font-size="86">(</text>
<text transform="translate(1145.5 1646) scale(0.95 1)" font-size="86" font-weight="bold">a</text>
<text transform="translate(1187.5 1646) scale(0.95 1)" font-size="86">)</text>
<text transform="translate(1113.4 3345.8) scale(0.95 1)" font-size="86">(</text>
<text transform="translate(1139.6 3345.8) scale(1.06 1)" font-size="86" font-weight="bold">b</text>
<text transform="translate(1191.2 3345.8) scale(0.95 1)" font-size="86">)</text>
</g>
</svg></body></html>
